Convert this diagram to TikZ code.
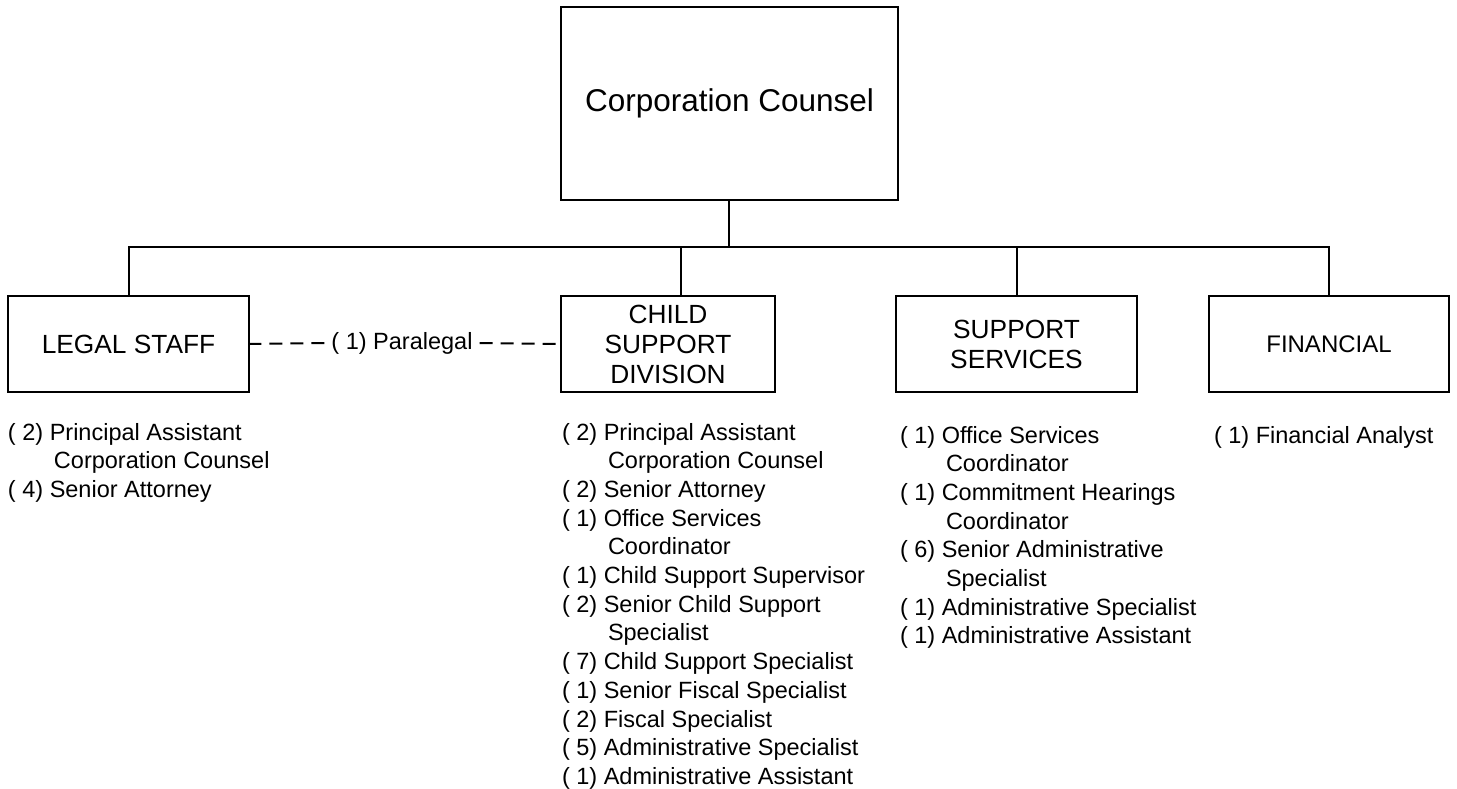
\documentclass[tikz,border=0pt]{standalone}
\usepackage{fontspec}
\setmainfont{Liberation Sans}
\begin{document}
\begin{tikzpicture}[x=1pt,y=-1pt,
  line width=2pt,
  orgbox/.style={draw=black, rectangle, inner sep=0pt, align=center},
  unitbox/.style={orgbox, minimum height=96pt, font=\fontsize{26.3}{30}\selectfont},
  staff/.style={inner sep=0pt, anchor=north west, align=left, font=\fontsize{23.5}{28.7}\selectfont},
  link/.style={draw=black, line width=2pt},
  dotted link/.style={link, dash pattern=on 13pt off 8pt}
]
\useasboundingbox (0,0) rectangle (1457,789);

% top box
\node[orgbox, minimum width=337pt, minimum height=193pt, font=\fontsize{31.5}{36}\selectfont] (top) at (729.5,103.5) {Corporation Counsel};

% unit boxes
\node[unitbox, minimum width=241pt] (legal) at (128.5,344) {LEGAL STAFF};
\node[unitbox, minimum width=214pt] (child) at (668,344) {CHILD\\SUPPORT\\DIVISION};
\node[unitbox, minimum width=241pt] (support) at (1016.5,344) {SUPPORT\\SERVICES};
\node[unitbox, minimum width=240pt, font=\fontsize{24}{28}\selectfont] (fin) at (1329,344) {FINANCIAL};

% connectors
\coordinate (bus) at (729,247);
\coordinate (childtop) at (681,296);
\draw[link] (top.south -| bus) -- (bus);
\draw[link] (legal.north) |- (bus) -| (fin.north);
\draw[link] (childtop) -- (childtop |- bus);
\draw[link] (support.north) -- (support.north |- bus);

% paralegal
\node[inner sep=0pt, font=\fontsize{23.5}{28.7}\selectfont] (para) at (402,343) {( 1) Paralegal};
\draw[dotted link] ([xshift=-6pt]para.west) -- (legal.east);
\draw[dotted link] ([xshift=6pt]para.east) -- (child.west);

% staff lists
\node[staff] (legallist) at (7,422) {( 2) Principal Assistant\\\hspace*{46pt}Corporation Counsel\\( 4) Senior Attorney};

\node[staff] (childlist) at (561,422) {( 2) Principal Assistant\\\hspace*{46pt}Corporation Counsel\\( 2) Senior Attorney\\( 1) Office Services\\\hspace*{46pt}Coordinator\\( 1) Child Support Supervisor\\( 2) Senior Child Support\\\hspace*{46pt}Specialist\\( 7) Child Support Specialist\\( 1) Senior Fiscal Specialist\\( 2) Fiscal Specialist\\( 5) Administrative Specialist\\( 1) Administrative Assistant};

\node[staff] (supportlist) at (899,425) {( 1) Office Services\\\hspace*{46pt}Coordinator\\( 1) Commitment Hearings\\\hspace*{46pt}Coordinator\\( 6) Senior Administrative\\\hspace*{46pt}Specialist\\( 1) Administrative Specialist\\( 1) Administrative Assistant};

\node[staff] (finlist) at (1213,425) {( 1) Financial Analyst};
\end{tikzpicture}
\end{document}
